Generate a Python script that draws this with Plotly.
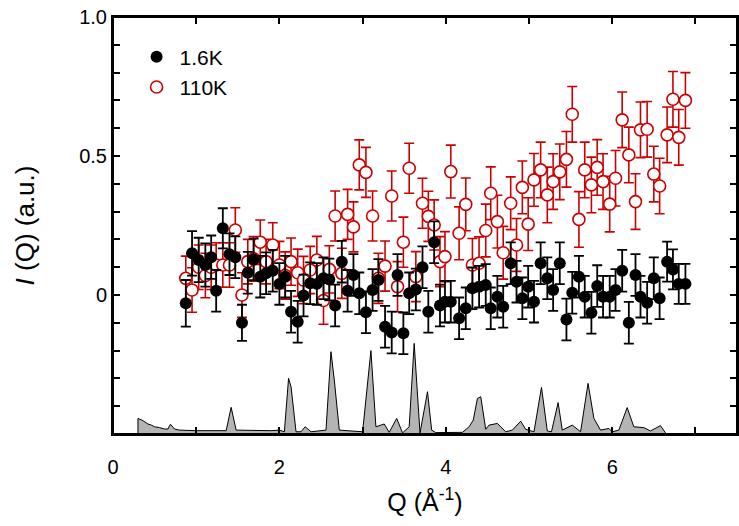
import plotly.graph_objects as go

# ---------------- data ----------------
q = [0.875, 0.95, 1.03, 1.11, 1.18, 1.24, 1.32, 1.40, 1.47, 1.55,
     1.62, 1.69, 1.77, 1.84, 1.92, 2.00, 2.07, 2.14, 2.22, 2.29,
     2.37, 2.45, 2.53, 2.60, 2.67, 2.75, 2.82, 2.89, 2.96, 3.04,
     3.12, 3.19, 3.27, 3.35, 3.42, 3.49, 3.56, 3.64, 3.72, 3.79,
     3.86, 3.93, 3.99, 4.06, 4.16, 4.24, 4.32, 4.40, 4.48, 4.54,
     4.62, 4.69, 4.78, 4.85, 4.92, 4.99, 5.06, 5.14, 5.22, 5.29,
     5.37, 5.45, 5.52, 5.60, 5.67, 5.75, 5.82, 5.89, 5.97, 6.04,
     6.12, 6.20, 6.28, 6.34, 6.42, 6.50, 6.57, 6.66, 6.73, 6.80,
     6.88]

i_16K = [-0.03, 0.15, 0.126, 0.108, 0.136, 0.015, 0.24, 0.147, 0.136, -0.10,
         0.08, 0.128, 0.066, 0.078, 0.087, 0.04, 0.066, -0.06, -0.096, -0.002,
         0.042, 0.04, 0.06, 0.056, -0.038, 0.12, 0.015, 0.072, 0.006, -0.062,
         0.018, 0.054, -0.114, -0.135, 0.072, -0.138, 0.006, 0.02, 0.10, -0.06,
         0.19, -0.038, -0.024, -0.024, -0.084, -0.048, 0.024, 0.03, 0.036, -0.048,
         -0.006, -0.042, 0.114, 0.048, -0.012, 0.03, -0.024, 0.114, 0.06, 0.018,
         0.114, -0.088, 0.008, 0.066, -0.006, -0.064, 0.032, -0.006, -0.006, 0.018,
         0.087, -0.10, 0.072, -0.006, -0.028, 0.06, -0.012, 0.12, 0.092, 0.04,
         0.04]

err_16K = [0.084, 0.08, 0.08, 0.078, 0.078, 0.075, 0.072, 0.075, 0.075, 0.065,
           0.075, 0.075, 0.075, 0.075, 0.075, 0.075, 0.075, 0.075, 0.075, 0.075,
           0.075, 0.075, 0.075, 0.075, 0.075, 0.075, 0.075, 0.075, 0.075, 0.075,
           0.075, 0.075, 0.075, 0.075, 0.075, 0.075, 0.075, 0.075, 0.075, 0.075,
           0.075, 0.075, 0.075, 0.075, 0.075, 0.075, 0.075, 0.075, 0.075, 0.075,
           0.075, 0.075, 0.075, 0.075, 0.075, 0.075, 0.075, 0.075, 0.075, 0.075,
           0.075, 0.075, 0.075, 0.075, 0.075, 0.075, 0.075, 0.075, 0.075, 0.075,
           0.075, 0.075, 0.075, 0.075, 0.075, 0.075, 0.075, 0.072, 0.072, 0.072,
           0.072]

i_110K = [0.06, 0.018, 0.10, 0.07, 0.10, 0.108, 0.108, 0.108, 0.234, 0.0,
          0.12, 0.13, 0.19, 0.12, 0.18, 0.108, 0.07, 0.12, 0.08, 0.054,
          0.09, 0.126, -0.02, 0.092, 0.284, 0.078, 0.29, 0.245, 0.468, 0.441,
          0.284, 0.06, 0.104, 0.356, 0.03, 0.19, 0.456, 0.066, 0.33, 0.283,
          0.252, 0.12, 0.138, 0.444, 0.222, 0.326, 0.108, 0.114, 0.232, 0.366,
          0.264, 0.152, 0.33, 0.18, 0.387, 0.255, 0.414, 0.45, 0.36, 0.408,
          0.443, 0.488, 0.65, 0.272, 0.45, 0.396, 0.459, 0.408, 0.327, 0.42,
          0.63, 0.504, 0.336, 0.594, 0.596, 0.435, 0.392, 0.576, 0.704, 0.567,
          0.70]

err_110K = [0.08, 0.08, 0.08, 0.08, 0.08, 0.08, 0.08, 0.08, 0.08, 0.08,
            0.08, 0.08, 0.08, 0.08, 0.08, 0.085, 0.085, 0.085, 0.085, 0.085,
            0.085, 0.085, 0.085, 0.085, 0.09, 0.09, 0.09, 0.09, 0.09, 0.09,
            0.09, 0.09, 0.09, 0.09, 0.09, 0.09, 0.09, 0.09, 0.09, 0.09,
            0.09, 0.09, 0.09, 0.095, 0.095, 0.095, 0.095, 0.095, 0.095, 0.095,
            0.095, 0.095, 0.095, 0.095, 0.095, 0.095, 0.095, 0.10, 0.10, 0.10,
            0.10, 0.10, 0.10, 0.10, 0.10, 0.10, 0.10, 0.10, 0.10, 0.10,
            0.10, 0.10, 0.10, 0.10, 0.10, 0.10, 0.10, 0.10, 0.10, 0.10,
            0.10]

# reference diffraction pattern (height above the bottom baseline)
ref_q = [0.30, 0.36, 0.42, 0.46, 0.50, 0.56, 0.62, 0.66, 0.69, 0.74,
         0.80, 1.00, 1.36, 1.42, 1.48, 1.90, 2.00, 2.06, 2.11, 2.14,
         2.20, 2.26, 2.31, 2.38, 2.56, 2.62, 2.66, 2.72, 3.00, 3.10,
         3.16, 3.26, 3.32, 3.41, 3.48, 3.56, 3.62, 3.69, 3.78, 3.83,
         3.88, 4.20, 4.28, 4.33, 4.38, 4.42, 4.48, 4.52, 4.62, 4.72,
         4.80, 4.90, 4.96, 5.06, 5.15, 5.22, 5.27, 5.35, 5.40, 5.52,
         5.62, 5.71, 5.78, 5.86, 5.96, 6.00, 6.08, 6.18, 6.26, 6.38,
         6.46, 6.58, 6.65]
ref_h = [0.056, 0.048, 0.036, 0.032, 0.026, 0.023, 0.018, 0.018, 0.035, 0.018,
         0.014, 0.012, 0.012, 0.096, 0.014, 0.012, 0.014, 0.008, 0.20, 0.17,
         0.008, 0.008, 0.026, 0.008, 0.014, 0.296, 0.194, 0.014, 0.008, 0.30,
         0.026, 0.036, 0.006, 0.056, 0.004, 0.026, 0.326, 0.004, 0.152, 0.014,
         0.005, 0.006, 0.026, 0.05, 0.128, 0.134, 0.017, 0.032, 0.038, 0.008,
         0.014, 0.046, 0.017, 0.008, 0.168, 0.011, 0.008, 0.113, 0.014, 0.032,
         0.008, 0.182, 0.056, 0.014, 0.02, 0.008, 0.014, 0.095, 0.026, 0.023,
         0.011, 0.03, 0.0]
ref_base = -0.5

x_ticks = [0, 1, 2, 3, 4, 5, 6, 7]
x_labels = ["0", " ", "2", " ", "4", " ", "6", " "]
y_ticks = [-0.5, -0.4, -0.3, -0.2, -0.1, 0.0, 0.1, 0.2, 0.3, 0.4, 0.5,
           0.6, 0.7, 0.8, 0.9, 1.0]
y_labels = [" ", " ", " ", " ", " ", "0", " ", " ", " ", " ", "0.5",
            " ", " ", " ", " ", "1.0"]

# ---------------- figure ----------------
FONT = "Arial, Liberation Sans, Helvetica, sans-serif"
RED = "#cc0000"

fig = go.Figure()

poly_x = [ref_q[0]] + ref_q + [ref_q[-1]]
poly_y = [ref_base] + [ref_base + h for h in ref_h] + [ref_base]
fig.add_trace(go.Scatter(
    x=poly_x, y=poly_y, mode="lines", fill="toself",
    fillcolor="#b4b4b4", line=dict(color="black", width=1),
    showlegend=False, hoverinfo="skip"))

fig.add_trace(go.Scatter(
    x=q, y=i_110K, mode="markers", name="110K", legendrank=2,
    marker=dict(symbol="circle", size=12, color="white",
                line=dict(color=RED, width=1.6)),
    error_y=dict(type="data", array=err_110K, color=RED,
                 thickness=1.6, width=5)))

fig.add_trace(go.Scatter(
    x=q, y=i_16K, mode="markers", name="1.6K", legendrank=1,
    marker=dict(symbol="circle", size=12, color="black"),
    error_y=dict(type="data", array=err_16K, color="black",
                 thickness=1.8, width=5)))

axis_common = dict(
    showline=True, linecolor="#000000", linewidth=2, mirror="ticks",
    ticks="inside", ticklen=7, tickwidth=2, tickcolor="#000000",
    showgrid=False, zeroline=False,
    tickfont=dict(family=FONT, size=20, color="black"),
)

fig.update_xaxes(
    range=[0, 7.5], tickmode="array", tickvals=x_ticks, ticktext=x_labels,
    title=dict(text="Q (Å<sup>-1</sup>)", font=dict(family=FONT, size=25, color="black"),
               standoff=16),
    ticklabelstandoff=14,
    **axis_common)
fig.update_yaxes(
    range=[-0.5, 1.0], tickmode="array", tickvals=y_ticks, ticktext=y_labels,
    title=dict(text="<i>I</i> (Q) (a.u.)", font=dict(family=FONT, size=26, color="black"),
               standoff=37),
    **axis_common)

# plot frame on all four sides
fig.add_shape(type="rect", xref="paper", yref="paper", x0=0, x1=1, y0=0, y1=1,
              line=dict(color="black", width=2), layer="above")

fig.update_layout(
    template="none",
    width=739, height=526,
    margin=dict(l=113, r=2, t=17, b=92),
    plot_bgcolor="white", paper_bgcolor="white",
    font=dict(family=FONT, color="black"),
    legend=dict(x=0.033, y=0.953, xanchor="left", yanchor="top",
                bgcolor="rgba(0,0,0,0)", font=dict(family=FONT, size=21),
                tracegroupgap=0, itemwidth=36),
)

# remove the browser's default 8px page margin so the figure sits at (0, 0)
fig.write_html("out.html", config={"displayModeBar": False},
               post_script="document.body.style.margin='0px';")
